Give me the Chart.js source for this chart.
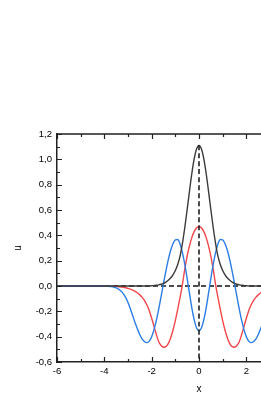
<!DOCTYPE html>
<html>
<head>
<meta charset="utf-8">
<script src="https://cdn.jsdelivr.net/npm/chart.js@4/dist/chart.umd.min.js"></script>
<style>
html,body{margin:0;padding:0;background:#fff;overflow:hidden;width:261px;height:406px;}
canvas{display:block;}
</style>
</head>
<body>
<canvas id="c" width="400" height="406"></canvas>
<script>
// x positions of the samples
const xValues = [-6,-5,-4,-3.9,-3.8,-3.7,-3.6,-3.5,-3.4,-3.3,-3.2,-3.1,-3,-2.9,-2.8,-2.7,-2.6,-2.5,-2.4,-2.3,-2.2,-2.1,-2,-1.9,-1.8,-1.7,-1.6,-1.5,-1.4,-1.3,-1.2,-1.1,-1,-0.9,-0.8,-0.7,-0.6,-0.5,-0.4,-0.3,-0.2,-0.1,0,0.1,0.2,0.3,0.4,0.5,0.6,0.7,0.8,0.9,1,1.1,1.2,1.3,1.4,1.5,1.6,1.7,1.8,1.9,2,2.1,2.2,2.3,2.4,2.5,2.6,2.7,2.8,2.9,3,3.1,3.2,3.3,3.4,3.5,3.6,3.7,3.8,3.9,4,5,6];

// black curve
const blackU = [0,0,0,0,0,0,0,0,0,0,0,0,0,0,0,0,0,0,0,0,0,0.001,0.002,0.004,0.006,0.009,0.014,0.021,0.031,0.045,0.063,0.088,0.122,0.17,0.236,0.337,0.462,0.604,0.752,0.892,1.007,1.083,1.11,1.083,1.007,0.892,0.752,0.604,0.462,0.337,0.236,0.17,0.122,0.088,0.063,0.045,0.031,0.021,0.014,0.009,0.006,0.004,0.002,0.001,0,0,0,0,0,0,0,0,0,0,0,0,0,0,0,0,0,0,0,0,0];

// red curve
const redU = [0,0,0,0,-0.001,-0.002,-0.003,-0.004,-0.006,-0.008,-0.010,-0.014,-0.019,-0.025,-0.033,-0.043,-0.055,-0.07,-0.09,-0.115,-0.15,-0.195,-0.255,-0.32,-0.385,-0.44,-0.47,-0.483,-0.479,-0.455,-0.41,-0.349,-0.273,-0.185,-0.09,0.013,0.134,0.236,0.319,0.384,0.431,0.459,0.468,0.459,0.431,0.384,0.319,0.236,0.134,0.013,-0.09,-0.185,-0.273,-0.349,-0.41,-0.455,-0.479,-0.483,-0.47,-0.44,-0.385,-0.32,-0.255,-0.195,-0.15,-0.115,-0.09,-0.07,-0.055,-0.043,-0.033,-0.025,-0.019,-0.014,-0.010,-0.008,-0.006,-0.004,-0.003,-0.002,-0.001,0,0,0,0];

// blue curve
const blueU = [0,0,0,-0.001,-0.003,-0.005,-0.009,-0.015,-0.025,-0.04,-0.06,-0.09,-0.13,-0.18,-0.235,-0.29,-0.34,-0.385,-0.42,-0.44,-0.447,-0.435,-0.40,-0.344,-0.27,-0.18,-0.082,0.02,0.117,0.206,0.28,0.334,0.364,0.367,0.332,0.264,0.17,0.059,-0.061,-0.177,-0.27,-0.332,-0.353,-0.332,-0.27,-0.177,-0.061,0.059,0.17,0.264,0.332,0.367,0.364,0.334,0.28,0.206,0.117,0.02,-0.082,-0.18,-0.27,-0.344,-0.40,-0.435,-0.447,-0.44,-0.42,-0.385,-0.34,-0.29,-0.235,-0.18,-0.13,-0.09,-0.06,-0.04,-0.025,-0.015,-0.009,-0.005,-0.003,-0.001,0,0,0];

// dashed reference lines
const hLineX = [-6, 6];
const hLineU = [0, 0];
const vLineX = [0, 0];
const vLineU = [1.11, -0.6];

// axes
const xMin = -6, xMax = 6, xStep = 1;
const yMin = -0.6, yMax = 1.2, yStep = 0.1;

const toPts = (xs, ys) => xs.map((x, i) => ({x: x, y: ys[i]}));

const fmtY = v => {
  const k = Math.round(v * 10);
  if (k % 2 !== 0) return '';
  return (k / 10).toFixed(1).replace('.', ',');
};
const fmtX = v => {
  const k = Math.round(v);
  if (k % 2 !== 0) return '';
  return String(k);
};

const frameTicks = {
  id: 'frameTicks',
  afterDraw(chart) {
    const {ctx, chartArea: a, scales} = chart;
    const xs = scales.x, ys = scales.y;
    ctx.save();
    ctx.strokeStyle = '#222';
    ctx.lineWidth = 1.5;
    ctx.beginPath();
    ctx.moveTo(a.left, a.top); ctx.lineTo(a.right, a.top);
    ctx.moveTo(a.right, a.top); ctx.lineTo(a.right, a.bottom);
    ctx.stroke();
    ctx.lineWidth = 1.2;
    ctx.beginPath();
    xs.ticks.forEach(t => {
      const px = Math.round(xs.getPixelForValue(t.value)) + 0.5;
      const len = Math.round(t.value) % 2 === 0 ? 5 : 3;
      ctx.moveTo(px, a.bottom); ctx.lineTo(px, a.bottom - len);
      ctx.moveTo(px, a.top); ctx.lineTo(px, a.top + len);
    });
    ys.ticks.forEach(t => {
      const py = Math.round(ys.getPixelForValue(t.value)) + 0.5;
      const len = Math.round(t.value * 10) % 2 === 0 ? 5 : 3;
      ctx.moveTo(a.left, py); ctx.lineTo(a.left + len, py);
      ctx.moveTo(a.right, py); ctx.lineTo(a.right - len, py);
    });
    ctx.stroke();
    ctx.restore();
  }
};

const lineDs = (label, xs, ys, color, width, dash, clip) => ({
  label, data: toPts(xs, ys), borderColor: color, backgroundColor: color,
  borderWidth: width, borderDash: dash || [], pointRadius: 0, fill: false,
  cubicInterpolationMode: 'monotone', tension: 0.4, clip: clip === undefined ? 1 : clip
});

new Chart(document.getElementById('c'), {
  type: 'line',
  data: {
    datasets: [
      lineDs('v', vLineX, vLineU, '#111', 1.5, [5, 3], 0),
      lineDs('black', xValues, blackU, '#3a3a3a', 1.4),
      lineDs('blue', xValues, blueU, '#2b7de4', 1.4),
      lineDs('red', xValues, redU, '#f0474a', 1.4),
      lineDs('h', hLineX, hLineU, '#111', 1.5, [5, 3], 0)
    ]
  },
  options: {
    responsive: false,
    animation: false,
    devicePixelRatio: 1,
    layout: {padding: {top: 134, right: 59, left: 0, bottom: 0}},
    plugins: {legend: {display: false}, tooltip: {enabled: false}},
    scales: {
      x: {
        type: 'linear', min: xMin, max: xMax,
        afterFit: s => { s.height = 44; },
        ticks: {stepSize: xStep, autoSkip: false, maxRotation: 0, padding: 4, color: '#000',
                font: {family: 'Liberation Sans', size: 9.5}, callback: fmtX},
        grid: {display: false, drawTicks: false},
        border: {display: true, color: '#222', width: 1.5},
        title: {display: true, text: 'x', color: '#000', font: {family: 'Liberation Sans', size: 10},
                padding: {top: 0, bottom: 11}}
      },
      y: {
        type: 'linear', min: yMin, max: yMax,
        afterFit: s => { s.width = 57; },
        ticks: {stepSize: yStep, autoSkip: false, padding: 5, color: '#000',
                font: {family: 'Liberation Sans', size: 9.5}, callback: fmtY},
        grid: {display: false, drawTicks: false},
        border: {display: true, color: '#222', width: 1.5},
        title: {display: true, text: 'u', color: '#000', font: {family: 'Liberation Sans', size: 10},
                padding: {top: 12, bottom: 0}}
      }
    }
  },
  plugins: [frameTicks]
});
</script>
</body>
</html>
